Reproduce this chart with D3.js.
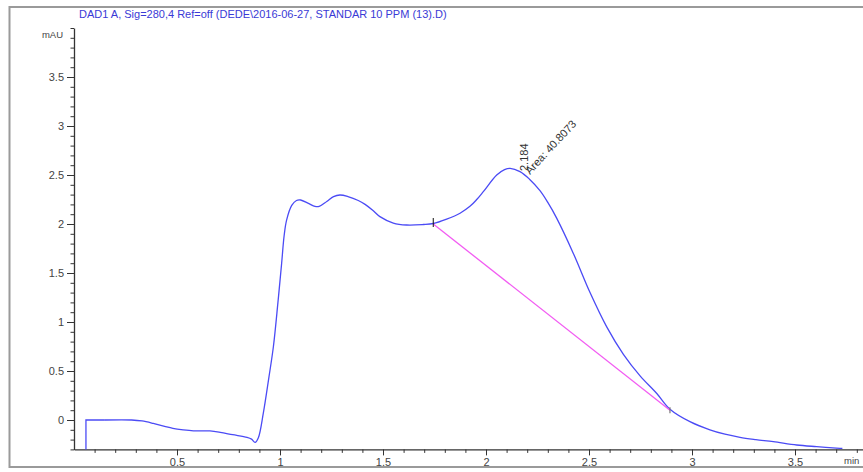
<!DOCTYPE html>
<html>
<head>
<meta charset="utf-8">
<script src="https://cdn.jsdelivr.net/npm/d3@7"></script>
<style>
  body { margin: 0; background: #fff; }
  svg { display: block; font-family: "Liberation Sans", Arial, sans-serif; }
</style>
</head>
<body>
<div id="chart"></div>
<script>
const title = "DAD1 A, Sig=280,4 Ref=off (DEDE\\2016-06-27, STANDAR 10 PPM (13).D)";

// retention time (min) and signal (mAU)
const times = [0.058, 0.058, 0.15, 0.28, 0.33, 0.385, 0.44, 0.48, 0.53, 0.58, 0.66, 0.71, 0.77, 0.84, 0.862,
  0.879, 0.895, 0.919, 0.945, 0.968, 0.99, 1.008, 1.02, 1.032, 1.057, 1.08, 1.1, 1.138, 1.17, 1.19, 1.227,
  1.26, 1.291, 1.33, 1.38, 1.413, 1.45, 1.485, 1.55, 1.615, 1.696, 1.744, 1.809, 1.874, 1.922, 1.955, 1.987,
  2.052, 2.09, 2.117, 2.165, 2.21, 2.262, 2.3, 2.343, 2.424, 2.505, 2.586, 2.667, 2.748, 2.829, 2.893, 2.99,
  3.087, 3.16, 3.233, 3.31, 3.395, 3.508, 3.605, 3.718, 3.73];
const signal = [-0.3, 0, 0, 0, -0.01, -0.035, -0.065, -0.085, -0.1, -0.11, -0.112, -0.126, -0.15, -0.177, -0.195,
  -0.228, -0.18, 0.07, 0.42, 0.75, 1.2, 1.6, 1.88, 2.04, 2.19, 2.24, 2.245, 2.21, 2.18, 2.18, 2.23,
  2.28, 2.296, 2.28, 2.24, 2.2, 2.14, 2.075, 2.01, 1.99, 1.995, 2.005, 2.05, 2.11, 2.18, 2.25, 2.33,
  2.5, 2.555, 2.568, 2.535, 2.46, 2.34, 2.22, 2.06, 1.70, 1.30, 0.95, 0.67, 0.45, 0.27, 0.11, -0.017,
  -0.10, -0.145, -0.177, -0.2, -0.221, -0.255, -0.272, -0.289, -0.29];

// integration baseline (start, end)
const baseTimes = [1.744, 2.893];
const baseValues = [2.0, 0.1];

// peak annotation
const peakRT = 2.184;
const peakLabel = "2.184";
const areaLabel = "Area: 40.8073";

const xMajor = [0.5, 1, 1.5, 2, 2.5, 3, 3.5];
const yMajor = [0, 0.5, 1, 1.5, 2, 2.5, 3, 3.5];

const W = 863, H = 472;

const svg = d3.select("#chart").append("svg")
  .attr("width", W)
  .attr("height", H);

const x = d3.scaleLinear().domain([0, 3.9]).range([74, 74 + 206 * 3.9]);
const y = d3.scaleLinear().domain([-0.3, 4.0]).range([449.4, 28]);

const minorX = d3.range(1, 40).map(i => i / 10).filter(v => !xMajor.some(m => Math.abs(m - v) < 1e-6));
const minorY = d3.range(-3, 41).map(i => i / 10).filter(v => !yMajor.some(m => Math.abs(m - v) < 1e-6));

// title
svg.append("text")
  .attr("x", 79)
  .attr("y", 18)
  .attr("fill", "#3a3ad6")
  .style("font-size", "11px")
  .text(title);

// Y axis: minor then major ticks
svg.append("g")
  .attr("transform", `translate(${x(0)},0)`)
  .call(d3.axisLeft(y).tickValues(minorY).tickSize(3.5).tickFormat("").tickSizeOuter(0))
  .call(g => g.select(".domain").remove())
  .call(g => g.selectAll("line").attr("stroke", "#333"));

const yAxis = svg.append("g")
  .attr("transform", `translate(${x(0)},0)`)
  .call(d3.axisLeft(y).tickValues(yMajor).tickSize(7).tickPadding(3).tickSizeOuter(0)
    .tickFormat(d3.format("")));
yAxis.select(".domain").attr("stroke", "#333").attr("stroke-width", 1.3);
yAxis.selectAll("line").attr("stroke", "#333");
yAxis.selectAll("text").attr("fill", "#444").style("font-size", "11px");

svg.append("text")
  .attr("x", 63)
  .attr("y", 38)
  .attr("text-anchor", "end")
  .attr("fill", "#444")
  .style("font-size", "9.5px")
  .text("mAU");

// X axis
svg.append("g")
  .attr("transform", `translate(0,${y(-0.3)})`)
  .call(d3.axisBottom(x).tickValues(minorX).tickSize(3.5).tickFormat("").tickSizeOuter(0))
  .call(g => g.select(".domain").remove())
  .call(g => g.selectAll("line").attr("stroke", "#333"));

const xAxis = svg.append("g")
  .attr("transform", `translate(0,${y(-0.3)})`)
  .call(d3.axisBottom(x).tickValues(xMajor).tickSize(6).tickPadding(3).tickSizeOuter(0)
    .tickFormat(d3.format("")));
xAxis.select(".domain").attr("stroke", "#333").attr("stroke-width", 1.3);
xAxis.selectAll("line").attr("stroke", "#333");
xAxis.selectAll("text").attr("fill", "#444").style("font-size", "11px");

svg.append("text")
  .attr("x", 844)
  .attr("y", 464)
  .attr("fill", "#444")
  .style("font-size", "9.5px")
  .text("min");

// signal trace: the injection step is a straight edge, the rest is smoothed
const pts = times.map((t, i) => [t, signal[i]]);
const line = d3.line()
  .x(d => x(d[0]))
  .y(d => y(d[1]));

svg.append("path")
  .datum(pts.slice(0, 3))
  .attr("fill", "none")
  .attr("stroke", "#4b4bf5")
  .attr("stroke-width", 1.3)
  .attr("d", line);

svg.append("path")
  .datum(pts.slice(2))
  .attr("fill", "none")
  .attr("stroke", "#4b4bf5")
  .attr("stroke-width", 1.3)
  .attr("d", line.curve(d3.curveCatmullRom.alpha(0.5)));

// baseline
svg.append("path")
  .datum(baseTimes.map((t, i) => [t, baseValues[i]]))
  .attr("fill", "none")
  .attr("stroke", "#f25cf2")
  .attr("stroke-width", 1.3)
  .attr("d", d3.line().x(d => x(d[0])).y(d => y(d[1])));

// integration event marks
svg.append("line")
  .attr("x1", x(baseTimes[0])).attr("x2", x(baseTimes[0]))
  .attr("y1", y(baseValues[0]) - 6).attr("y2", y(baseValues[0]) + 3)
  .attr("stroke", "#111").attr("stroke-width", 1);
svg.append("line")
  .attr("x1", x(baseTimes[1])).attr("x2", x(baseTimes[1]))
  .attr("y1", y(baseValues[1]) - 3).attr("y2", y(baseValues[1]) + 3)
  .attr("stroke", "#777").attr("stroke-width", 1.2);

// peak labels
const lx = x(peakRT);
svg.append("text")
  .attr("transform", `translate(${lx + 4},171) rotate(-90)`)
  .attr("fill", "#333")
  .style("font-size", "11px")
  .text(peakLabel);
svg.append("text")
  .attr("transform", `translate(${lx + 6},175) rotate(-47)`)
  .attr("fill", "#333")
  .style("font-size", "11px")
  .text(areaLabel);

// outer frame
svg.append("path")
  .attr("d", `M${W},7 H9.5 V467 H${W}`)
  .attr("fill", "none")
  .attr("stroke", "#9a9a9a")
  .attr("stroke-width", 2);
</script>
</body>
</html>
